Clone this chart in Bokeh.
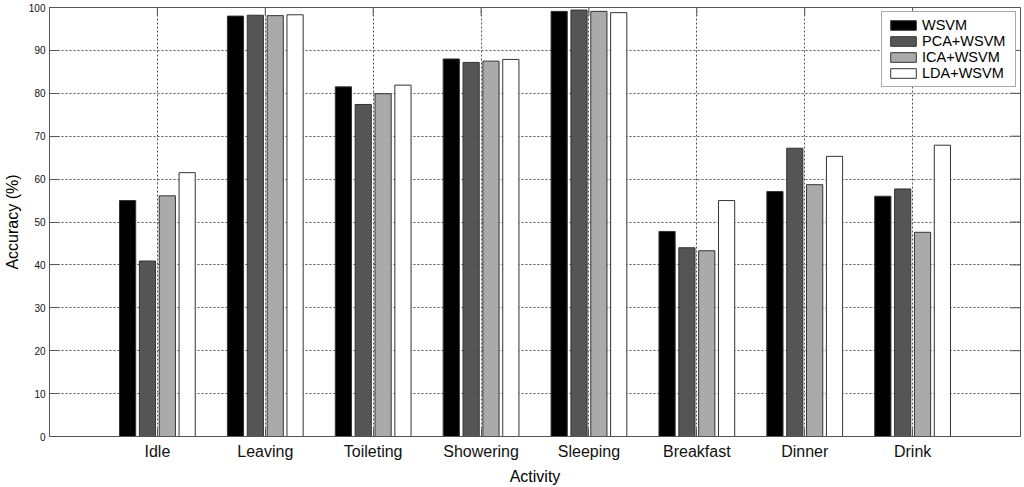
import math
from bokeh.plotting import figure
from bokeh.models import Range1d, FixedTicker, ColumnDataSource
from bokeh.transform import dodge
from bokeh.embed import file_html
from bokeh.resources import INLINE

categories = ["Idle", "Leaving", "Toileting", "Showering", "Sleeping", "Breakfast", "Dinner", "Drink"]
series_names = ["WSVM", "PCA+WSVM", "ICA+WSVM", "LDA+WSVM"]
wsvm = [55.0, 98.0, 81.5, 88.0, 99.1, 47.8, 57.1, 56.0]
pca_wsvm = [40.9, 98.2, 77.4, 87.2, 99.4, 44.0, 67.2, 57.7]
ica_wsvm = [56.1, 98.1, 79.9, 87.5, 99.1, 43.3, 58.7, 47.6]
lda_wsvm = [61.5, 98.3, 81.9, 87.9, 98.8, 55.0, 65.3, 67.9]
y_ticks = [0, 10, 20, 30, 40, 50, 60, 70, 80, 90, 100]

positions = list(range(1, len(categories) + 1))
x_end = len(categories) + 1
y_end = 100
source = ColumnDataSource(dict(x=positions, wsvm=wsvm, pca=pca_wsvm, ica=ica_wsvm, lda=lda_wsvm))

FONT = "Liberation Sans"
AX = "#555555"

p = figure(width=1024, height=487, output_backend="svg", toolbar_location=None,
           x_range=Range1d(0, x_end), y_range=Range1d(0, y_end),
           min_border_left=49, min_border_right=4, min_border_top=7, min_border_bottom=50)

fills = ["#000000", "#555555", "#aaaaaa", "#ffffff"]
cols = ["wsvm", "pca", "ica", "lda"]
offsets = [-0.276, -0.092, 0.092, 0.276]
for col, name, fc, off in zip(cols, series_names, fills, offsets):
    p.vbar(x=dodge("x", off, range=p.x_range), top=col, width=0.15, bottom=0,
           source=source, fill_color=fc, line_color="#333333", line_width=1,
           legend_label=name)

# mirrored inward ticks on the right and top edges of the box
p.scatter(x=[x_end] * len(y_ticks), y=y_ticks, marker="dash", size=20,
          line_color=AX, line_width=1)
p.scatter(x=positions, y=[y_end] * len(positions), marker="dash", size=16,
          angle=math.pi / 2, line_color=AX, line_width=1)

# axes
p.xaxis.ticker = FixedTicker(ticks=positions)
p.xaxis.major_label_overrides = {i: c for i, c in zip(positions, categories)}
p.xaxis.axis_label = "Activity"
p.yaxis.ticker = FixedTicker(ticks=y_ticks)
p.yaxis.axis_label = "Accuracy (%)"

for ax in [p.xaxis[0], p.yaxis[0]]:
    ax.axis_line_color = AX
    ax.major_tick_line_color = AX
    ax.major_tick_out = 0
    ax.minor_tick_line_color = None
    ax.axis_label_text_font = FONT
    ax.axis_label_text_font_size = "16px"
    ax.axis_label_text_font_style = "normal"
    ax.axis_label_text_color = "#000000"
    ax.major_label_text_font = FONT
    ax.major_label_text_color = "#111111"

p.xaxis.major_tick_in = 8
p.xaxis.major_label_text_font_size = "16px"
p.xaxis.major_label_standoff = 6
p.xaxis.axis_label_standoff = 5
p.yaxis.major_tick_in = 10
p.yaxis.major_label_text_font_size = "10px"
p.yaxis.major_label_standoff = 4
p.yaxis.axis_label_standoff = 5

# grid
p.xgrid.grid_line_color = "#555555"
p.xgrid.grid_line_dash = "2 2"
p.xgrid.grid_line_width = 1
p.ygrid.grid_line_color = "#555555"
p.ygrid.grid_line_dash = "2 2"
p.ygrid.grid_line_width = 1

p.outline_line_color = AX
p.background_fill_color = "white"
p.border_fill_color = "white"

# legend
lg = p.legend[0]
lg.location = "top_right"
lg.margin = 4
lg.padding = 5
lg.spacing = 0
lg.glyph_width = 32
lg.glyph_height = 12
lg.label_height = 16
lg.label_width = 88
lg.label_standoff = 3
lg.label_text_font = FONT
lg.label_text_font_size = "14.5px"
lg.label_text_color = "#000000"
lg.border_line_color = AX
lg.border_line_width = 1
lg.background_fill_alpha = 1.0

open("out.html", "w").write(file_html(p, INLINE))
